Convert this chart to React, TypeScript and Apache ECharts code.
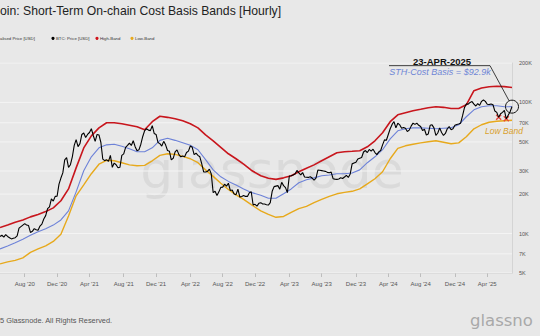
import React, { useEffect, useRef } from "react";
import * as echarts from "echarts";

// ---------- data ----------
const START_DATE = Date.UTC(2020, 4, 1);
const MONTHS = ["Jan", "Feb", "Mar", "Apr", "May", "Jun", "Jul", "Aug", "Sep", "Oct", "Nov", "Dec"];
const X_TICK_LABELS = ["Aug '20", "Dec '20", "Apr '21", "Aug '21", "Dec '21", "Apr '22", "Aug '22", "Dec '22", "Apr '23", "Aug '23", "Dec '23", "Apr '24", "Aug '24", "Dec '24", "Apr '25"];
const Y_TICKS = [5000, 7000, 10000, 20000, 30000, 50000, 70000, 100000, 200000];
const Y_TICK_LABELS = ["5K", "7K", "10K", "20K", "30K", "50K", "70K", "100K", "200K"];

// BTC price (thousand USD), ~weekly
const PRICE_K = [
  9.5, 9.7, 9.4, 9.8, 9.5, 9.3, 9.1, 9.2, 9.3, 9.6, 11.0, 11.3, 11.6, 11.9, 11.6, 11.5, 10.2, 10.4,
  10.9, 10.7, 10.6, 11.4, 11.8, 12.9, 13.7, 15.5, 16.0, 18.4, 17.7, 19.2, 19.3, 23.8, 26.5, 29.0, 36.5, 38.0,
  32.0, 33.5, 38.5, 47.0, 52.0, 46.0, 48.5, 57.0, 58.5, 54.0, 57.0, 59.0, 63.0, 56.0, 50.5, 57.0, 56.5, 49.5,
  37.0, 36.0, 36.5, 35.5, 39.5, 32.0, 34.5, 33.5, 31.8, 32.0, 39.5, 40.5, 45.5, 47.0, 49.0, 47.0, 51.0, 46.0,
  42.8, 43.5, 48.0, 55.0, 61.0, 63.0, 61.5, 61.0, 66.5, 58.0, 57.0, 49.5, 48.5, 46.5, 50.5, 47.5, 43.0, 42.5,
  36.5, 37.5, 42.0, 43.5, 40.0, 38.5, 39.0, 38.5, 41.5, 42.5, 46.5, 45.5, 40.0, 41.0, 39.5, 38.5, 34.0, 29.5,
  29.5, 29.8, 31.0, 28.5, 20.5, 21.0, 19.5, 20.8, 22.5, 22.6, 23.8, 23.0, 24.2, 21.3, 21.5, 20.0, 19.8, 21.8,
  19.0, 19.2, 19.5, 19.2, 19.2, 20.5, 20.8, 16.5, 16.7, 16.2, 17.0, 17.2, 16.8, 16.8, 16.6, 16.5, 17.2, 21.0,
  22.8, 23.0, 23.2, 21.8, 24.6, 23.2, 22.4, 20.5, 27.5, 27.6, 28.0, 28.5, 30.3, 29.0, 28.0, 29.2, 27.0, 26.9,
  26.8, 27.1, 26.5, 25.5, 26.5, 30.5, 30.4, 30.2, 30.0, 29.8, 29.3, 29.1, 29.4, 26.2, 26.0, 25.9, 26.1, 26.6,
  26.3, 27.0, 27.8, 26.8, 28.5, 34.0, 34.5, 35.0, 37.0, 37.5, 38.0, 41.9, 43.0, 41.5, 43.8, 42.5, 44.0, 41.5,
  40.0, 42.0, 43.0, 47.5, 51.8, 51.5, 57.0, 63.0, 68.0, 71.5, 64.0, 69.5, 67.5, 63.5, 64.5, 63.5, 60.0, 61.5, 66.0,
  69.5, 68.0, 69.5, 67.0, 65.5, 61.0, 62.5, 56.5, 57.5, 67.0, 67.5, 64.0, 56.0, 58.5, 64.0, 59.0, 56.0, 58.0,
  63.0, 65.5, 62.0, 63.0, 67.0, 68.0, 68.5, 69.5, 79.0, 91.0, 97.5, 97.0, 100.0, 101.5, 97.0, 94.0, 98.0, 95.0, 102.0,
  104.5, 102.0, 97.0, 96.5, 97.5, 96.0, 86.0, 84.0, 77.0, 82.0, 84.0, 87.0, 75.0, 80.0, 85.0, 93.0,
];

// STH realized price and bands (thousand USD), evenly spaced samples across the span
const STH_K = [
  7.64, 8.05, 8.5, 9.04, 9.69, 10.3, 10.9, 11.6, 12.7, 14.9,
  20.8, 30.1, 38.5, 45.1, 47.5, 48.0, 46.3, 44.4, 42.1, 42.1,
  45.1, 51.4, 53.3, 51.4, 49.2, 47.1, 43.6, 36.6, 30.6, 27.1,
  25.0, 23.5, 21.9, 20.6, 19.6, 18.6, 18.6, 20.1, 21.9, 24.4,
  25.7, 26.6, 27.6, 28.0, 28.6, 28.6, 29.0, 30.6, 34.7, 38.5,
  43.6, 52.8, 60.8, 63.0, 64.0, 64.0, 63.5, 63.0, 63.5, 64.0,
  67.6, 77.8, 87.9, 92.7, 94.4, 94.4, 92.7, 92.9,
];
const HIGH_K = [
  11.1, 11.6, 12.2, 12.7, 13.4, 14.0, 14.7, 15.7, 17.8, 21.9,
  31.7, 45.0, 55.6, 64.0, 70.0, 70.0, 68.7, 67.0, 65.2, 61.9,
  71.3, 78.5, 77.0, 75.1, 72.5, 68.7, 64.0, 56.6, 51.0, 45.5,
  40.6, 37.2, 33.8, 30.4, 27.6, 26.4, 25.9, 26.6, 27.6, 29.6,
  31.5, 33.4, 35.9, 38.5, 41.3, 42.1, 42.4, 42.8, 45.9, 51.0,
  58.7, 71.3, 80.5, 83.4, 86.4, 88.7, 91.1, 92.7, 91.8, 90.0,
  90.0, 96.0, 123, 129, 131.8, 133, 132, 130,
];
const LOW_K = [
  5.87, 6.08, 6.24, 6.52, 7.18, 7.64, 8.05, 8.71, 9.87, 13.6,
  19.4, 23.5, 28.6, 33.8, 36.2, 35.9, 34.7, 33.4, 32.9, 33.1,
  35.9, 39.5, 40.6, 40.2, 38.8, 37.2, 34.7, 30.6, 27.3, 24.2,
  21.7, 19.7, 18.2, 16.6, 14.9, 14.0, 13.3, 13.5, 14.5, 15.5,
  16.1, 17.2, 18.2, 19.2, 20.1, 20.6, 21.0, 21.9, 23.9, 26.2,
  29.6, 37.2, 44.7, 46.7, 48.0, 49.2, 50.1, 51.0, 49.7, 48.4,
  49.2, 54.7, 63.0, 67.6, 70.6, 71.8, 72.5, 73.1,
];
// indices of the two recent lows marked with a red X
const LOW_MARK_INDEX = [262, 266];

// legend entries as visible in the (cropped) reference
const LEGEND_TEXTS = ["alised Price [USD]", "BTC: Price [USD]", "High-Band", "Low-Band"];

// ---------- derived ----------
const N = PRICE_K.length;
const DAY = 86400000;
const CATEGORIES: string[] = [];
const TICK_AT: Record<number, string> = {};
for (let i = 0; i < N; i++) {
  const t = START_DATE + i * 7 * DAY;
  CATEGORIES.push(new Date(t).toISOString().slice(0, 10));
  for (let k = 0; k < 7; k++) {
    const d = new Date(t + k * DAY);
    if (d.getUTCDate() === 1) {
      const lab = MONTHS[d.getUTCMonth()] + " '" + String(d.getUTCFullYear()).slice(2);
      if (X_TICK_LABELS.includes(lab)) TICK_AT[i] = lab;
    }
  }
}
const bandData = (arr: number[]) =>
  arr.map((v, j) => [Math.round((j * (N - 1)) / (arr.length - 1)), v * 1000]);

const FONT = "'Liberation Sans', Arial, sans-serif";
const RED = "#c8161d";
const BLUE = "#6d82d8";
const ORANGE = "#e7a91c";
const LEGEND_COLORS = [BLUE, "#000", "#d0141c", ORANGE];
const LEGEND_X = [-6, 53, 97, 132];

export default function App() {
  const ref = useRef<HTMLDivElement>(null);
  useEffect(() => {
    document.body.style.margin = "0";
    const chart = echarts.init(ref.current!, null, { renderer: "svg" });

    const gridSeries = Y_TICKS.map((v, i) => ({
      name: "grid-" + Y_TICK_LABELS[i],
      type: "line",
      data: [[0, v], [N - 1, v]],
      symbol: "none",
      silent: true,
      z: 1,
      lineStyle: { color: "#f4f4f4", width: 1 },
      endLabel: {
        show: true,
        formatter: () => Y_TICK_LABELS[i],
        fontSize: 5.5,
        color: "#555",
        distance: 7,
        fontFamily: FONT,
      },
      emphasis: { disabled: true },
    }));

    const option: any = {
      animation: false,
      backgroundColor: "#e8e8e8",
      textStyle: { fontFamily: FONT },
      title: {
        text: "oin: Short-Term On-chain Cost Basis Bands [Hourly]",
        left: 0,
        top: 5,
        padding: 0,
        textStyle: { fontSize: 12.2, fontWeight: "normal", color: "#222", fontFamily: FONT },
      },
      grid: { left: 0, right: 28, top: 63, bottom: 63, containLabel: false },
      xAxis: {
        type: "category",
        data: CATEGORIES,
        boundaryGap: false,
        axisLine: { lineStyle: { color: "#d4d4d4" } },
        axisTick: {
          show: true,
          length: 4,
          interval: (i: number) => TICK_AT[i] !== undefined,
          lineStyle: { color: "#bdbdbd" },
        },
        axisLabel: {
          interval: (i: number) => TICK_AT[i] !== undefined,
          formatter: (_v: string, i: number) => TICK_AT[i] || "",
          fontSize: 6,
          color: "#555",
          margin: 8,
        },
        splitLine: { show: false },
      },
      yAxis: {
        type: "log",
        logBase: 10,
        min: 5000,
        max: 200000,
        position: "right",
        axisLine: { show: true, lineStyle: { color: "#d4d4d4" } },
        axisTick: { show: false },
        axisLabel: { show: false },
        splitLine: { show: false },
      },
      series: [
        ...gridSeries,
        {
          name: "High-Band",
          type: "line",
          data: bandData(HIGH_K),
          symbol: "none",
          z: 3,
          itemStyle: { color: RED },
          lineStyle: { color: RED, width: 1.6 },
        },
        {
          name: "Low-Band",
          type: "line",
          data: bandData(LOW_K),
          symbol: "none",
          z: 3,
          itemStyle: { color: ORANGE },
          lineStyle: { color: ORANGE, width: 1.4 },
        },
        {
          name: "STH Realized Price [USD]",
          type: "line",
          data: bandData(STH_K),
          symbol: "none",
          z: 4,
          itemStyle: { color: BLUE },
          lineStyle: { color: BLUE, width: 1.1 },
          markPoint: {
            silent: true,
            symbol: "circle",
            symbolSize: 13,
            itemStyle: { color: "rgba(0,0,0,0)", borderColor: "#111", borderWidth: 1 },
            label: { show: false },
            data: [{ coord: [N - 1, STH_K[STH_K.length - 1] * 1000] }],
          },
        },
        {
          name: "BTC: Price [USD]",
          type: "line",
          data: PRICE_K.map((v) => v * 1000),
          symbol: "none",
          z: 5,
          itemStyle: { color: "#000" },
          lineStyle: { color: "#000", width: 1.1 },
          markPoint: {
            silent: true,
            symbol: "path://M0,0L10,10M10,0L0,10",
            symbolSize: 5,
            itemStyle: { color: "none", borderColor: "#e8463a", borderWidth: 1.4 },
            label: { show: false },
            data: LOW_MARK_INDEX.map((i) => ({ coord: [i, PRICE_K[i] * 1000] })),
          },
        },
      ],
    };
    chart.setOption(option);

    const p = chart.convertToPixel({ gridIndex: 0 }, [N - 1, STH_K[STH_K.length - 1] * 1000]) as number[];
    const q = chart.convertToPixel({ gridIndex: 0 }, [N - 1, LOW_K[LOW_K.length - 1] * 1000]) as number[];

    const legendEls: any[] = [];
    LEGEND_TEXTS.forEach((t, i) => {
      legendEls.push({
        type: "circle",
        shape: { cx: LEGEND_X[i], cy: 38.3, r: 1.6 },
        style: { fill: LEGEND_COLORS[i] },
      });
      legendEls.push({
        type: "text",
        x: i === 0 ? 0 : LEGEND_X[i] + 3,
        y: 38.3,
        style: { text: t, fill: "#333", font: "4.3px " + FONT, verticalAlign: "middle" },
      });
    });

    chart.setOption({
      graphic: [
        {
          type: "text",
          z: 0,
          silent: true,
          x: 272,
          y: 170,
          style: {
            text: "glassnode",
            fill: "rgba(0,0,0,0.06)",
            font: "52px 'DejaVu Sans', sans-serif",
            align: "center",
            verticalAlign: "middle",
          },
        },
        ...legendEls,
        {
          type: "text",
          x: 0,
          y: 320,
          style: {
            text: "5 Glassnode. All Rights Reserved.",
            fill: "#555",
            font: "7.4px " + FONT,
            verticalAlign: "middle",
          },
        },
        {
          type: "text",
          x: 470,
          y: 320,
          style: {
            text: "glassno",
            fill: "#a9a9a9",
            font: "16.5px 'DejaVu Sans', sans-serif",
            verticalAlign: "middle",
          },
        },
        {
          type: "polyline",
          z: 100,
          shape: { points: [[p[0] - 123, p[1] - 41], [p[0] - 22, p[1] - 41], [p[0] - 3, p[1] - 6]] },
          style: { stroke: "#111", lineWidth: 0.8, fill: null },
        },
        {
          type: "text",
          z: 100,
          x: p[0] - 70,
          y: p[1] - 45.5,
          style: {
            text: "23-APR-2025",
            fill: "#111",
            font: "bold 9.5px " + FONT,
            align: "center",
            verticalAlign: "middle",
          },
        },
        {
          type: "text",
          z: 100,
          x: p[0] - 72,
          y: p[1] - 34.5,
          style: {
            text: "STH-Cost Basis = $92.9k",
            fill: "#6f86d6",
            font: "italic 9px " + FONT,
            align: "center",
            verticalAlign: "middle",
          },
        },
        {
          type: "text",
          z: 100,
          x: q[0] - 8,
          y: q[1] + 10.5,
          style: {
            text: "Low Band",
            fill: "#d9a02c",
            font: "italic 8.5px " + FONT,
            align: "center",
            verticalAlign: "middle",
          },
        },
      ],
    });

    return () => chart.dispose();
  }, []);
  return (
    <div
      ref={ref}
      style={{ position: "absolute", left: 0, top: 0, width: 540, height: 336, background: "#e8e8e8" }}
    />
  );
}
